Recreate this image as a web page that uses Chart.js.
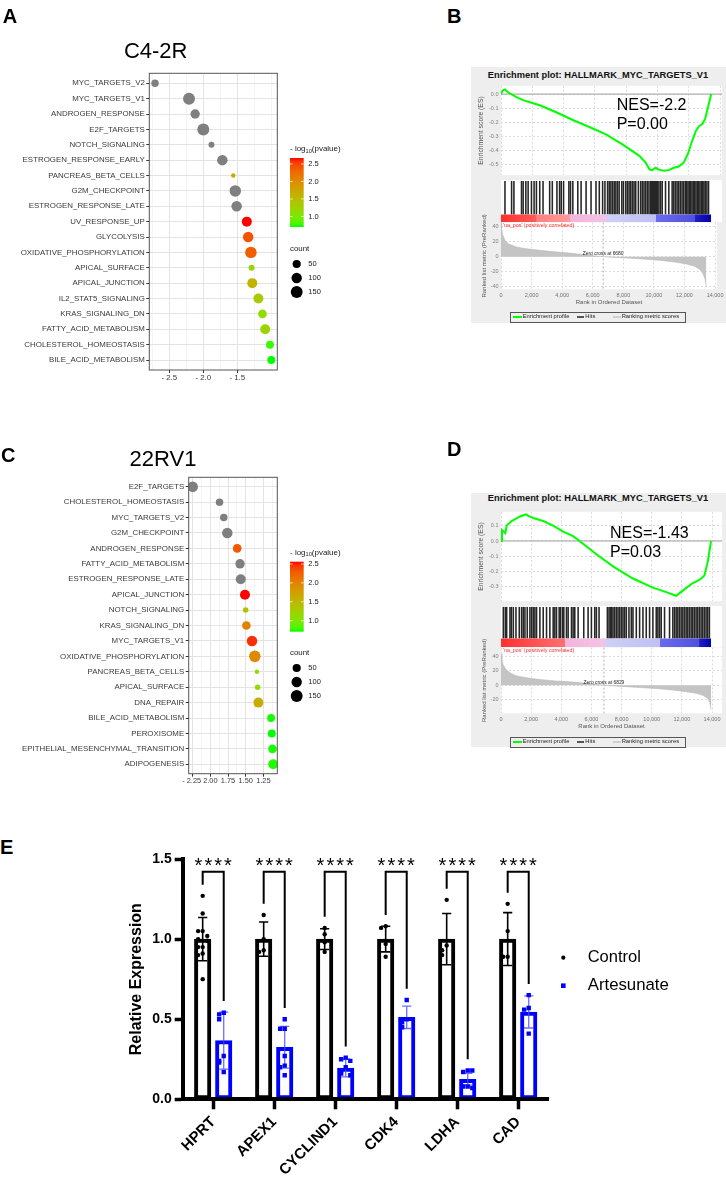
<!DOCTYPE html>
<html><head><meta charset="utf-8">
<script src="https://cdn.jsdelivr.net/npm/chart.js@4.4.1/dist/chart.umd.min.js"></script>
<style>
body{margin:0;background:#fff;font-family:"Liberation Sans",Arial,sans-serif}
#page{position:relative;width:726px;height:1194px;overflow:hidden;background:#fff}
canvas{position:absolute}
.t{position:absolute;white-space:nowrap;line-height:1}
</style></head><body><div id="page"></div>
<script>
// ==================================================
// Data — panel A (C4-2R dot plot)
// ==================================================
const A_TERMS=['MYC_TARGETS_V2','MYC_TARGETS_V1','ANDROGEN_RESPONSE','E2F_TARGETS','NOTCH_SIGNALING','ESTROGEN_RESPONSE_EARLY','PANCREAS_BETA_CELLS','G2M_CHECKPOINT','ESTROGEN_RESPONSE_LATE','UV_RESPONSE_UP','GLYCOLYSIS','OXIDATIVE_PHOSPHORYLATION','APICAL_SURFACE','APICAL_JUNCTION','IL2_STAT5_SIGNALING','KRAS_SIGNALING_DN','FATTY_ACID_METABOLISM','CHOLESTEROL_HOMEOSTASIS','BILE_ACID_METABOLISM'];
const A_NES=[-2.71,-2.21,-2.12,-2.00,-1.88,-1.72,-1.56,-1.53,-1.51,-1.36,-1.34,-1.30,-1.29,-1.28,-1.19,-1.13,-1.09,-1.02,-1.00];
const A_COUNT=[38,154,75,154,21,105,15,135,105,90,105,135,21,90,90,58,90,46,46];
const A_LOGP=[null,null,null,null,null,null,1.72,null,null,2.67,2.42,2.36,1.20,1.60,1.36,1.16,1.22,0.76,0.70];
const A_XTICKS=[-2.75,-2.5,-2.25,-2,-1.75,-1.5,-1.25,-1];
const A_XLABELS=['','- 2.5','','- 2.0','','- 1.5','',''];

// ==================================================
// Data — panel C (22RV1 dot plot)
// ==================================================
const C_TERMS=['E2F_TARGETS','CHOLESTEROL_HOMEOSTASIS','MYC_TARGETS_V2','G2M_CHECKPOINT','ANDROGEN_RESPONSE','FATTY_ACID_METABOLISM','ESTROGEN_RESPONSE_LATE','APICAL_JUNCTION','NOTCH_SIGNALING','KRAS_SIGNALING_DN','MYC_TARGETS_V1','OXIDATIVE_PHOSPHORYLATION','PANCREAS_BETA_CELLS','APICAL_SURFACE','DNA_REPAIR','BILE_ACID_METABOLISM','PEROXISOME','EPITHELIAL_MESENCHYMAL_TRANSITION','ADIPOGENESIS'];
const C_NES=[-2.25,-1.87,-1.81,-1.76,-1.62,-1.58,-1.57,-1.51,-1.50,-1.49,-1.41,-1.37,-1.34,-1.33,-1.32,-1.14,-1.13,-1.12,-1.11];
const C_COUNT=[105,38,38,105,58,75,90,90,18,58,105,135,15,18,90,46,46,58,90];
const C_LOGP=[null,null,null,null,2.30,null,null,2.56,1.42,2.02,2.48,1.95,1.08,1.10,1.62,0.72,0.71,0.72,0.73];
const C_XTICKS=[-2.25,-2.125,-2,-1.875,-1.75,-1.625,-1.5,-1.375,-1.25,-1.125];
const C_XLABELS=['- 2.25 ','','2.00','','1.75','','1.50','','1.25',''];

const LEG_PTICKS=[1.0,1.5,2.0,2.5];
const LEG_COUNTS=[50,100,150];

// ==================================================
// Data — panel B (GSEA, C4-2R)
// ==================================================
const B_ES_RANK=[0,106,254,465,994,1417,2052,2475,3532,4590,5647,6705,7762,8820,9243,9497,9666,9877,10089,10406,10723,11041,11358,11675,11950,12204,12457,12669,12880,13050,13219,13430];
const B_ES_VAL=[0,0.026,0.033,0.011,-0.022,-0.043,-0.065,-0.08,-0.13,-0.185,-0.235,-0.287,-0.359,-0.439,-0.489,-0.539,-0.543,-0.526,-0.539,-0.548,-0.543,-0.526,-0.517,-0.489,-0.424,-0.337,-0.261,-0.228,-0.213,-0.174,-0.098,0];
const B_HITS=[254,677,825,1311,1417,1586,1734,1946,2115,2263,2475,2686,3109,3278,3574,3744,3849,3997,4336,4441,4590,4907,5118,5436,5753,6070,6282,6493,6641,6810,6916,7022,7127,7233,7339,7445,7550,7720,7825,7974,8079,8185,8291,8397,8502,8608,8777,8925,9031,9137,9243,9348,9454,9560,9623,9687,9750,9814,9877,9941,10004,10089,10195,10300,10512,10723,10935,11041,11146,11252,11358,11464,11569,11675,11781,11865,11950,12034,12119,12204,12288,12373,12457,12542,12627,12711,12796,12880,12965,13050,13156,13261];
const B_M_RANK=[0,40,100,250,500,1000,1500,2500,3500,4600,5500,6200,6680,7500,8500,9500,10500,11500,12200,12700,13000,13200,13350,13430];
const B_M_VAL=[46,38,30,22,17,13,11,8.5,6.5,4.5,2.5,1,0,-1,-2,-3.5,-5,-7.5,-10,-13,-17,-22,-30,-40];
const B_BAND_STOPS=[0,2260,2270,4380,4390,6700,6710,9880,9890,12410,12420,13430];
const B_BAND_COLS=['#ff3030','#ff5a5a','#ff7f7f','#ff9a9a','#f4b4dc','#f2c4e4','#cfcff8','#c0c0f4','#6b6bec','#5050e0','#2020c0','#0000b0'];
const B_ES_TICKS=[0,-0.1,-0.2,-0.3,-0.4,-0.5];
const B_RK_TICKS=[40,20,0,-20,-40];
const B_ZERO=6680;

// ==================================================
// Data — panel D (GSEA, 22RV1)
// ==================================================
const D_ES_RANK=[0,66,198,287,375,705,1257,1654,1808,2139,2800,3462,4123,4785,5446,6328,7431,8754,10077,10959,11620,12061,12723,13164,13495,13715,13936];
const D_ES_VAL=[0,0.072,0.062,0.052,0.102,0.132,0.162,0.176,0.166,0.152,0.132,0.102,0.062,0.032,-0.018,-0.088,-0.168,-0.248,-0.308,-0.338,-0.362,-0.328,-0.278,-0.258,-0.228,-0.138,0];
const D_HITS=[154,287,375,595,684,816,992,1213,1367,1477,1588,1742,1918,2029,2139,2249,2359,2580,2800,3021,3242,3462,3572,3682,3859,3947,4079,4167,4344,4454,4675,4785,4895,5116,5490,5777,5998,6218,6328,6505,7056,7166,7254,7343,7431,7541,7651,7762,7872,7982,8092,8203,8313,8489,8644,8754,8975,9195,9416,9636,9857,10077,10298,10408,10519,10629,10849,11180,11400,11511,11621,11731,11841,11951,12062,12172,12282,12392,12502,12613,12723,12833,12943,13054,13164,13274,13384,13494,13605,13715,13825];
const D_M_RANK=[0,60,150,375,700,1038,1800,2579,3600,4783,5800,6400,6829,8000,9192,10300,11394,12300,12941,13400,13710,13850,13936];
const D_M_VAL=[44,34,28,21,16,13,10,8,6,4.5,2.5,1,0,-1.5,-3,-4.5,-6.5,-9,-11,-14,-18,-24,-34];
const D_BAND_STOPS=[0,4230,4240,6880,6890,10520,10530,13160,13170,13936];
const D_BAND_COLS=['#ff3030','#ff7070','#f4b4dc','#f2c4e4','#cfcff8','#c0c0f4','#6b6bec','#5050e0','#2020c0','#0000b0'];
const D_ES_TICKS=[0.1,0,-0.1,-0.2,-0.3];
const D_RK_TICKS=[40,20,0,-20];
const D_ZERO=6829;
const GSEA_XTICKS=[0,2000,4000,6000,8000,10000,12000,14000];

// ==================================================
// Data — panel E (qPCR bars)
// ==================================================
const E_GENES=['HPRT','APEX1','CYCLIND1','CDK4','LDHA','CAD'];
const E_CTRL_MEAN=[1.0,1.0,1.0,1.0,1.0,1.0];
const E_CTRL_SD=[0.135,0.107,0.065,0.08,0.16,0.165];
const E_ART_MEAN=[0.366,0.325,0.195,0.512,0.125,0.545];
const E_ART_SD=[0.178,0.13,0.055,0.07,0.037,0.1];
const E_CTRL_PTS=[[1.27,1.16,1.05,1.05,1.02,1.0,0.99,0.95,0.95,0.91,0.90,0.75],[1.15,1.0,0.93,0.92],[1.07,1.03,0.98,0.92],[1.08,1.07,0.97,0.89],[1.245,0.96,0.93,0.90],[1.22,1.05,0.89,0.89]];
const E_ART_PTS=[[0.54,0.53,0.50,0.27,0.24,0.23,0.17],[0.50,0.44,0.44,0.27,0.21,0.20,0.15],[0.26,0.25,0.24,0.20,0.18,0.16,0.15],[0.62,0.50,0.48,0.45],[0.18,0.17,0.18,0.08,0.08,0.07],[0.65,0.57,0.56,0.41]];
const E_SIG=['****','****','****','****','****','****'];

// ==================================================
// Helpers
// ==================================================
const FF='"Liberation Sans", Arial, Helvetica, sans-serif';
Chart.defaults.font.family=FF;
Chart.defaults.animation=false;
Chart.defaults.events=[];
Chart.defaults.plugins.legend.display=false;
Chart.defaults.plugins.tooltip.enabled=false;
const page=document.getElementById('page');

function mkCanvas(l,t,w,h){const c=document.createElement('canvas');c.width=w;c.height=h;c.style.left=l+'px';c.style.top=t+'px';page.appendChild(c);return c;}
function txt(s,x,y,css,anchor){const d=document.createElement('div');d.className='t';d.textContent=s;d.style.cssText+=`left:${x}px;top:${y}px;`+css;
  if(anchor==='c')d.style.transform='translate(-50%,-50%)';else if(anchor==='l')d.style.transform='translateY(-50%)';page.appendChild(d);return d;}
function box(l,t,w,h,css){const d=document.createElement('div');d.style.cssText=`position:absolute;left:${l}px;top:${t}px;width:${w}px;height:${h}px;`+css;page.appendChild(d);return d;}

// ggplot-like green→red gradient interpolated in Lab
function srgb2lab(h){const v=[1,3,5].map(i=>parseInt(h.substr(i,2),16)/255).map(c=>c<=0.04045?c/12.92:Math.pow((c+0.055)/1.055,2.4));
  const X=(0.4124*v[0]+0.3576*v[1]+0.1805*v[2])/0.95047,Y=0.2126*v[0]+0.7152*v[1]+0.0722*v[2],Z=(0.0193*v[0]+0.1192*v[1]+0.9505*v[2])/1.08883;
  const f=t=>t>0.008856?Math.cbrt(t):7.787*t+16/116;const fx=f(X),fy=f(Y),fz=f(Z);return [116*fy-16,500*(fx-fy),200*(fy-fz)];}
function lab2css(L,a,b){const fy=(L+16)/116,fx=fy+a/500,fz=fy-b/200;const g=t=>{const t3=t*t*t;return t3>0.008856?t3:(t-16/116)/7.787;};
  const X=g(fx)*0.95047,Y=g(fy),Z=g(fz)*1.08883;
  const r=3.2406*X-1.5372*Y-0.4986*Z,gg=-0.9689*X+1.8758*Y+0.0415*Z,bb=0.0557*X-0.2040*Y+1.0570*Z;
  const k=c=>Math.round(255*Math.min(1,Math.max(0,c<=0.0031308?12.92*c:1.055*Math.pow(c,1/2.4)-0.055)));
  return `rgb(${k(r)},${k(gg)},${k(bb)})`;}
const LAB_LO=srgb2lab('#00ff00'),LAB_HI=srgb2lab('#ff0000');
function pcol(t){t=Math.min(1,Math.max(0,t));return lab2css(...LAB_LO.map((v,i)=>v+(LAB_HI[i]-v)*t));}
function rad(c){return 2.2+4.2*Math.sqrt(Math.max(0,(c-15)/170));}

// ==================================================
// Plugins
// ==================================================
const plotBg={id:'plotBg',beforeDraw(ch,a,o){if(!o.color)return;const A=ch.chartArea,c=ch.ctx;c.save();c.fillStyle=o.color;c.fillRect(A.left,A.top,A.right-A.left,A.bottom-A.top);c.restore();}};
const frame={id:'frame',afterDatasetsDraw(ch,a,o){if(!o.color)return;const A=ch.chartArea,c=ch.ctx;c.save();c.strokeStyle=o.color;c.lineWidth=1;c.strokeRect(A.left,A.top,A.right-A.left,A.bottom-A.top);c.restore();}};
const zeroLine={id:'zeroLine',beforeDatasetsDraw(ch,a,o){if(!o.on)return;const A=ch.chartArea,c=ch.ctx,y=ch.scales.y.getPixelForValue(0);c.save();c.strokeStyle='#a0a0a0';c.lineWidth=1;c.beginPath();c.moveTo(A.left,y);c.lineTo(A.right,y);c.stroke();c.restore();}};
const rankNotes={id:'rankNotes',afterDatasetsDraw(ch,a,o){if(!o.zero)return;const c=ch.ctx,A=ch.chartArea,xs=ch.scales.x,ys=ch.scales.y,zx=xs.getPixelForValue(o.zero);
  c.save();c.strokeStyle='#9a9a9a';c.lineWidth=0.8;c.setLineDash([2,2]);c.beginPath();c.moveTo(zx,A.top);c.lineTo(zx,A.bottom);c.stroke();c.setLineDash([]);
  c.font='5.3px '+FF;c.textBaseline='middle';c.textAlign='left';c.fillStyle='#ff2a2a';c.fillText("'na_pos' (positively correlated)",A.left+2,A.top+3.2);
  c.fillStyle='#222';c.textAlign='center';c.font='4.9px '+FF;c.textBaseline='bottom';c.fillText('Zero cross at '+o.zero,zx,ys.getPixelForValue(0)-0.3);
  c.fillStyle='#4040ff';c.font='5.3px '+FF;c.textBaseline='middle';c.fillText("'na_neg' (negatively correlated)",o.negX,A.bottom-5);c.restore();}};
const dotLegend={id:'dotLegend',afterDraw(ch,a,o){if(!o.x0)return;const c=ch.ctx;c.save();c.fillStyle='#1a1a1a';c.textBaseline='middle';c.textAlign='left';
  let x=o.x0;c.font='8px '+FF;c.fillText('- log',x,o.titleY);x+=c.measureText('- log').width;
  c.font='5.6px '+FF;c.fillText('10',x,o.titleY+2);x+=c.measureText('10').width;c.font='8px '+FF;c.fillText('(pvalue)',x,o.titleY);
  const g=c.createLinearGradient(0,o.barBot,0,o.barTop);for(let k=0;k<=20;k++)g.addColorStop(k/20,pcol(k/20));
  c.fillStyle=g;c.fillRect(o.x0,o.barTop,13.7,o.barBot-o.barTop);
  c.strokeStyle='rgba(255,255,255,0.9)';c.lineWidth=0.8;c.font='7.5px '+FF;
  o.ticks.forEach(v=>{const y=o.barBot-(v-o.lo)/(o.hi-o.lo)*(o.barBot-o.barTop);c.beginPath();c.moveTo(o.x0,y);c.lineTo(o.x0+2.7,y);c.moveTo(o.x0+11,y);c.lineTo(o.x0+13.7,y);c.stroke();
    c.fillStyle='#1a1a1a';c.fillText(v.toFixed(1),o.x0+18.3,y);});
  c.font='7.9px '+FF;c.fillText('count',o.x0,o.countY);
  o.sizes.forEach((s,i)=>{c.fillStyle='#000';c.beginPath();c.arc(o.x0+6.7,o.dotYs[i],rad(s),0,Math.PI*2);c.fill();c.fillStyle='#1a1a1a';c.font='7.5px '+FF;c.fillText(String(s),o.x0+18.3,o.dotYs[i]);});
  c.restore();}};
const errBars={id:'errBars',afterDatasetDraw(ch,a){const ds=ch.data.datasets[a.index];if(!ds.sd)return;const c=ch.ctx,y=ch.scales.y;c.save();c.strokeStyle=ds.errColor;c.lineWidth=ds.errWidth;
  a.meta.data.forEach((el,i)=>{const m=ds.mean[i],s=ds.sd[i],yt=y.getPixelForValue(m+s),yb=y.getPixelForValue(m-s),x=el.x,w=4.6;
    c.beginPath();c.moveTo(x,yt);c.lineTo(x,yb);c.moveTo(x-w,yt);c.lineTo(x+w,yt);c.moveTo(x-w,yb);c.lineTo(x+w,yb);c.stroke();});c.restore();}};
const sigBrackets={id:'sigBrackets',afterDatasetsDraw(ch,a,o){if(!o.labels)return;const c=ch.ctx,y=ch.scales.y,m0=ch.getDatasetMeta(0),m1=ch.getDatasetMeta(1);
  c.save();c.strokeStyle='#000';c.lineWidth=2;c.fillStyle='#000';c.font='20px '+FF;c.textAlign='center';c.textBaseline='alphabetic';
  o.labels.forEach((lab,i)=>{const xl=m0.data[i].x,xr=m1.data[i].x;
    const hl=Math.max(E_CTRL_MEAN[i]+E_CTRL_SD[i],...E_CTRL_PTS[i])+o.gap,hr=Math.max(E_ART_MEAN[i]+E_ART_SD[i],...E_ART_PTS[i])+o.gap;
    const yt=y.getPixelForValue(o.top);
    c.beginPath();c.moveTo(xl,y.getPixelForValue(hl));c.lineTo(xl,yt);c.lineTo(xr,yt);c.lineTo(xr,y.getPixelForValue(hr));c.stroke();
    const cx=(xl+xr)/2;for(let k=0;k<lab.length;k++)c.fillText(lab[k],cx+(k-(lab.length-1)/2)*9.8,yt+o.starDy);});
  c.restore();}};
const eLegend={id:'eLegend',afterDraw(ch,a,o){if(!o.x)return;const c=ch.ctx;c.save();c.textBaseline='middle';c.textAlign='left';
  [2,3].forEach((di,k)=>{const ds=ch.data.datasets[di],yy=o.y+k*o.dy;c.fillStyle=ds.backgroundColor;
    if(ds.pointStyle==='rect'){const s=4.6;c.fillRect(o.x-s/2,yy-s/2,s,s);}else{c.beginPath();c.arc(o.x,yy,2.1,0,Math.PI*2);c.fill();}
    c.fillStyle='#000';c.font=(k?'16.8px ':'16.5px ')+FF;c.fillText(ds.label,o.tx,yy);});c.restore();}};
Chart.register(plotBg,frame,zeroLine,rankNotes,dotLegend,errBars,sigBrackets,eLegend);

// ==================================================
// Dot plots (A, C)
// ==================================================
function dotPlot(o){
  const W=345,cv=mkCanvas(0,o.top,W,o.h);
  const vals=o.logp.filter(v=>v!=null),lo=Math.min(...vals),hi=Math.max(...vals),n=o.terms.length;
  const maj=i=>o.xlab[i]!=='';
  new Chart(cv,{type:'bubble',
    data:{datasets:[{data:o.nes.map((v,i)=>({x:v,y:i,r:rad(o.count[i])})),
      backgroundColor:o.logp.map(v=>v==null?'#7f7f7f':pcol((v-lo)/(hi-lo))),borderWidth:0}]},
    options:{responsive:false,layout:{autoPadding:false,padding:{top:o.plotTop-o.top,right:W-o.right,left:0,bottom:0}},
      plugins:{frame:{color:'#555'},dotLegend:{x0:290,titleY:o.leg.titleY-o.top,barTop:o.leg.barTop-o.top,barBot:o.leg.barBot-o.top,lo,hi,ticks:LEG_PTICKS,
        countY:o.leg.countY-o.top,dotYs:o.leg.dotYs.map(v=>v-o.top),sizes:LEG_COUNTS}},
      scales:{
        x:{type:'linear',min:o.xmin,max:o.xmax,afterBuildTicks:s=>{s.ticks=o.xticks.map(v=>({value:v}));},afterFit:s=>{s.height=o.h-(o.plotBot-o.top);},
          ticks:{autoSkip:false,maxRotation:0,padding:0,font:{size:o.xfont},color:'#3a3a3a',callback:(v,i)=>o.xlab[i]},
          grid:{color:c=>maj(c.index)?'#e3e3e3':'#efefef',lineWidth:c=>maj(c.index)?1:0.7,tickLength:3,tickColor:c=>maj(c.index)?'#333':'rgba(0,0,0,0)'},
          border:{display:false}},
        y:{type:'linear',reverse:true,min:-o.ypad,max:n-1+o.ypad,afterBuildTicks:s=>{s.ticks=o.terms.map((_,i)=>({value:i}));},afterFit:s=>{s.width=o.left;},
          ticks:{autoSkip:false,padding:1.5,font:{size:7.9},color:'#3a3a3a',callback:v=>o.terms[v]},
          grid:{color:'#e3e3e3',lineWidth:1,tickLength:3,tickColor:'#333'},border:{display:false}}
      }}});
}
dotPlot({terms:A_TERMS,nes:A_NES,count:A_COUNT,logp:A_LOGP,xticks:A_XTICKS,xlab:A_XLABELS,xfont:7.9,top:62,h:325,plotTop:73.3,plotBot:370,left:149.3,right:277.3,
  xmin:-2.794,xmax:-0.912,ypad:0.65,leg:{titleY:149,barTop:158,barBot:227,countY:249,dotYs:[264,278,292]}});
dotPlot({terms:C_TERMS,nes:C_NES,count:C_COUNT,logp:C_LOGP,xticks:C_XTICKS,xlab:C_XLABELS,xfont:7.4,top:468,h:322,plotTop:477.3,plotBot:773.7,left:188.7,right:277.3,
  xmin:-2.307,xmax:-1.052,ypad:0.61,leg:{titleY:552.7,barTop:561.7,barBot:631.7,countY:653,dotYs:[668,682,696]}});
txt('C4-2R',155.7,50.7,'font:22px '+FF+';color:#000','c');
txt('22RV1',163,459.3,'font:22px '+FF+';color:#000','c');

// ==================================================
// GSEA enrichment plots (B, D)
// ==================================================
function bandGrad(ch,o){const A=ch.chartArea;if(!A)return 'rgba(0,0,0,0)';const xs=ch.scales.x;
  const g=ch.ctx.createLinearGradient(xs.getPixelForValue(0),0,xs.getPixelForValue(o.nGenes),0);
  o.bandStops.forEach((s,i)=>g.addColorStop(s/o.nGenes,o.bandCols[i]));return g;}
function gsea(o){
  const L=471,W=255,padR=4,axW=30;
  box(L,o.bgTop,W,o.bgBot-o.bgTop,'background:#eeeeee');
  txt(o.title,598,o.titleY,'font:bold 9.3px '+FF+';color:#111','c');
  const xcfg=()=>({type:'linear',min:0,max:o.xMax,offset:false,afterBuildTicks:s=>{s.ticks=GSEA_XTICKS.map(v=>({value:v}));}});
  // running enrichment score
  const esT=Math.floor(o.esTop)-2,esB=Math.ceil(o.esBot);
  new Chart(mkCanvas(L,esT,W,esB-esT),{type:'line',
    data:{datasets:[{data:o.esRank.map((r,i)=>({x:r,y:o.esVal[i]})),borderColor:'#00ff00',borderWidth:2,pointRadius:0,tension:0}]},
    options:{responsive:false,layout:{autoPadding:false,padding:{top:o.esTop-esT,bottom:esB-o.esBot,left:0,right:padR}},
      plugins:{plotBg:{color:'#fff'},zeroLine:{on:true}},
      scales:{x:{...xcfg(),ticks:{display:false},grid:{color:'#dcdcdc',drawTicks:false},border:{display:false,dash:[2,2]},afterFit:s=>{s.height=0;}},
        y:{type:'linear',min:o.esMin,max:o.esMax,afterBuildTicks:s=>{s.ticks=o.esTicks.map(v=>({value:v}));},afterFit:s=>{s.width=axW;},
          ticks:{font:{size:5.5},color:'#808080',padding:2.5,callback:v=>v.toFixed(1)},grid:{color:'#dcdcdc',drawTicks:false},border:{display:false,dash:[2,2]},
          title:{display:true,text:'Enrichment score (ES)',font:{size:6.8},color:'#555',padding:{top:5.6,bottom:0}}}}}});
  // hits + ranking colour band
  const hT=Math.round(o.esBot),hB=Math.round(o.hitsBot),bandFrac=(o.hitsBot-o.bandTop)/(o.hitsBot-o.esBot);
  new Chart(mkCanvas(L,hT,W,hB-hT),{type:'bar',
    data:{datasets:[
      {type:'bar',data:o.hits.map(r=>({x:r,y:[bandFrac+0.01,0.97]})),backgroundColor:'#262626',barThickness:0.9,borderWidth:0,order:1},
      {type:'line',data:[{x:0,y:bandFrac},{x:o.nGenes,y:bandFrac}],fill:'origin',pointRadius:0,borderWidth:0,backgroundColor:c=>bandGrad(c.chart,o),order:0}]},
    options:{responsive:false,layout:{autoPadding:false,padding:{left:axW,right:padR,top:0,bottom:0}},plugins:{plotBg:{color:'#fff'}},
      scales:{x:{...xcfg(),display:false},y:{type:'linear',display:false,min:0,max:1}}}});
  // ranked list metric
  const rT=Math.round(o.rkTop-12),rB=Math.round(o.rkBot+17);
  new Chart(mkCanvas(L,rT,W,rB-rT),{type:'line',
    data:{datasets:[{data:o.mRank.map((r,i)=>({x:r,y:o.mVal[i]})),fill:'origin',backgroundColor:'#c4c4c4',borderColor:'#b8b8b8',borderWidth:0.6,pointRadius:0,tension:0}]},
    options:{responsive:false,layout:{autoPadding:false,padding:{top:o.rkTop-rT,bottom:0,left:0,right:padR}},
      plugins:{plotBg:{color:'#fff'},rankNotes:{zero:o.zero,negX:650}},
      scales:{x:{...xcfg(),afterFit:s=>{s.height=rB-o.rkBot;},
          ticks:{autoSkip:false,maxRotation:0,font:{size:5.5},color:'#707070',padding:2.5,callback:v=>v.toLocaleString('en-US')},
          grid:{color:'#dcdcdc',drawTicks:false},border:{display:false,dash:[2,2]},
          title:{display:true,text:'Rank in Ordered Dataset',font:{size:6},color:'#555',padding:{top:0,bottom:0.1}}},
        y:{type:'linear',min:o.rkMin,max:o.rkMax,afterBuildTicks:s=>{s.ticks=o.rkTicks.map(v=>({value:v}));},afterFit:s=>{s.width=axW;},
          ticks:{font:{size:5.5},color:'#808080',padding:2.5},grid:{color:'#dcdcdc',drawTicks:false},border:{display:false,dash:[2,2]},
          title:{display:true,text:'Ranked list metric (PreRanked)',font:{size:6},color:'#555',padding:{top:9.4,bottom:0}}}}}});
  // NES / P annotation
  txt(o.nes,o.nesX,o.nesY1,'font:16px '+FF+';color:#000','l');
  txt(o.p,o.nesX,o.nesY2,'font:16px '+FF+';color:#000','l');
  // legend box
  const lg=box(510,o.legTop,176,11,'border:1px solid #555;box-sizing:border-box;font:5.8px '+FF+';color:#222');
  [['#00ff00',1.7,9,'Enrichment profile',11.7],['#555',66,7.3,'Hits',74.3],['#cfcfcf',101.7,8.3,'Ranking metric scores',110.7]].forEach(it=>{
    const ln=document.createElement('div');ln.style.cssText=`position:absolute;left:${it[1]}px;top:3.8px;width:${it[2]}px;height:1.4px;background:${it[0]}`;lg.appendChild(ln);
    const s=document.createElement('div');s.className='t';s.textContent=it[3];s.style.cssText+=`left:${it[4]}px;top:50%;transform:translateY(-50%)`;lg.appendChild(s);});
}
gsea({title:'Enrichment plot: HALLMARK_MYC_TARGETS_V1',nes:'NES=-2.2',p:'P=0.00',nesX:616.7,nesY1:105,nesY2:124,
  bgTop:67,bgBot:323,titleY:75,esTop:82.7,esBot:180.3,bandTop:214.3,hitsBot:221.7,rkTop:222.5,rkBot:289.3,legTop:311.5,
  esMin:-0.579,esMax:0.059,esTicks:B_ES_TICKS,rkMin:-43.5,rkMax:45.6,rkTicks:B_RK_TICKS,xMax:14121,nGenes:13430,zero:B_ZERO,
  esRank:B_ES_RANK,esVal:B_ES_VAL,hits:B_HITS,mRank:B_M_RANK,mVal:B_M_VAL,bandStops:B_BAND_STOPS,bandCols:B_BAND_COLS});
gsea({title:'Enrichment plot: HALLMARK_MYC_TARGETS_V1',nes:'NES=-1.43',p:'P=0.03',nesX:610,nesY1:533.3,nesY2:552.3,
  bgTop:492.7,bgBot:746.7,titleY:498.3,esTop:508.3,esBot:606.3,bandTop:638.3,hitsBot:646.7,rkTop:647.5,rkBot:713.3,legTop:736.5,
  esMin:-0.398,esMax:0.193,esTicks:D_ES_TICKS,rkMin:-38.9,rkMax:52.5,rkTicks:D_RK_TICKS,xMax:14661,nGenes:13936,zero:D_ZERO,
  esRank:D_ES_RANK,esVal:D_ES_VAL,hits:D_HITS,mRank:D_M_RANK,mVal:D_M_VAL,bandStops:D_BAND_STOPS,bandCols:D_BAND_COLS});

// ==================================================
// Panel E — bar chart with SD and individual points
// ==================================================
const E_SHIFT=0.1725;
function swarm(groups,shift){const out=[];groups.forEach((pts,i)=>{const placed=[];pts.forEach(v=>{const k=placed.filter(p=>Math.abs(p-v)<0.035).length;placed.push(v);
  out.push({x:i+shift+[0,-1,1,-2,2,-3,3][k%7]*0.075,y:v});});});return out;}
const barDs=(label,mean,sd,col,errCol,errW,shift)=>({label,xAxisID:'xs',data:mean.map((v,i)=>({x:i+shift,y:v})),mean,sd,errColor:errCol,errWidth:errW,
  backgroundColor:'#fff',borderColor:col,borderWidth:4,borderSkipped:false,grouped:false,barThickness:16.5,order:2});
new Chart(mkCanvas(100,840,626,354),{type:'bar',
  data:{labels:E_GENES,datasets:[
    barDs('Control',E_CTRL_MEAN,E_CTRL_SD,'#000','#000',1.6,-E_SHIFT),
    barDs('Artesunate',E_ART_MEAN,E_ART_SD,'#0000ff','rgba(70,70,255,0.8)',1.3,E_SHIFT),
    {type:'scatter',label:'Control',xAxisID:'xs',data:swarm(E_CTRL_PTS,-E_SHIFT),pointStyle:'circle',pointRadius:2.2,backgroundColor:'#000',borderWidth:0,order:1},
    {type:'scatter',label:'Artesunate',xAxisID:'xs',data:swarm(E_ART_PTS,E_SHIFT),pointStyle:'rect',pointRadius:3.1,backgroundColor:'#0000ff',borderWidth:0,order:1}]},
  options:{responsive:false,layout:{autoPadding:false,padding:{top:19,right:626-448.7,left:0,bottom:0}},
    plugins:{sigBrackets:{labels:E_SIG,top:1.42,gap:0.07,starDy:-0.3},eLegend:{x:463.3,y:117.7,dy:28,tx:487.7}},
    scales:{
      x:{type:'category',offset:true,afterFit:s=>{s.height=94.7;},grid:{offset:false,drawOnChartArea:false,tickLength:10,tickWidth:3.5,tickColor:'#000'},
        border:{color:'#000',width:4,z:1},ticks:{font:{size:15,weight:'bold'},color:'#000',minRotation:45,maxRotation:45,padding:4,autoSkip:false}},
      xs:{type:'linear',display:false,offset:false,min:-0.5,max:5.5},
      y:{type:'linear',min:0,max:1.5,afterFit:s=>{s.width=82.7;},ticks:{stepSize:0.5,font:{size:14,weight:'bold'},color:'#000',padding:3,callback:v=>v.toFixed(1)},
        grid:{drawOnChartArea:false,tickLength:8,tickWidth:3.5,tickColor:'#000'},border:{color:'#000',width:4,z:1},
        title:{display:true,text:'Relative Expression',font:{size:16,weight:'bold'},color:'#000',padding:{top:27.1,bottom:0}}}}}});

// ==================================================
// Panel letters
// ==================================================
const LET='font:bold 20px '+FF+';color:#000';
txt('A',2.7,4.7,LET);txt('B',447,4.5,LET);txt('C',1,444,LET);txt('D',447,437.5,LET);txt('E',0,835.7,LET);
</script></body></html>
